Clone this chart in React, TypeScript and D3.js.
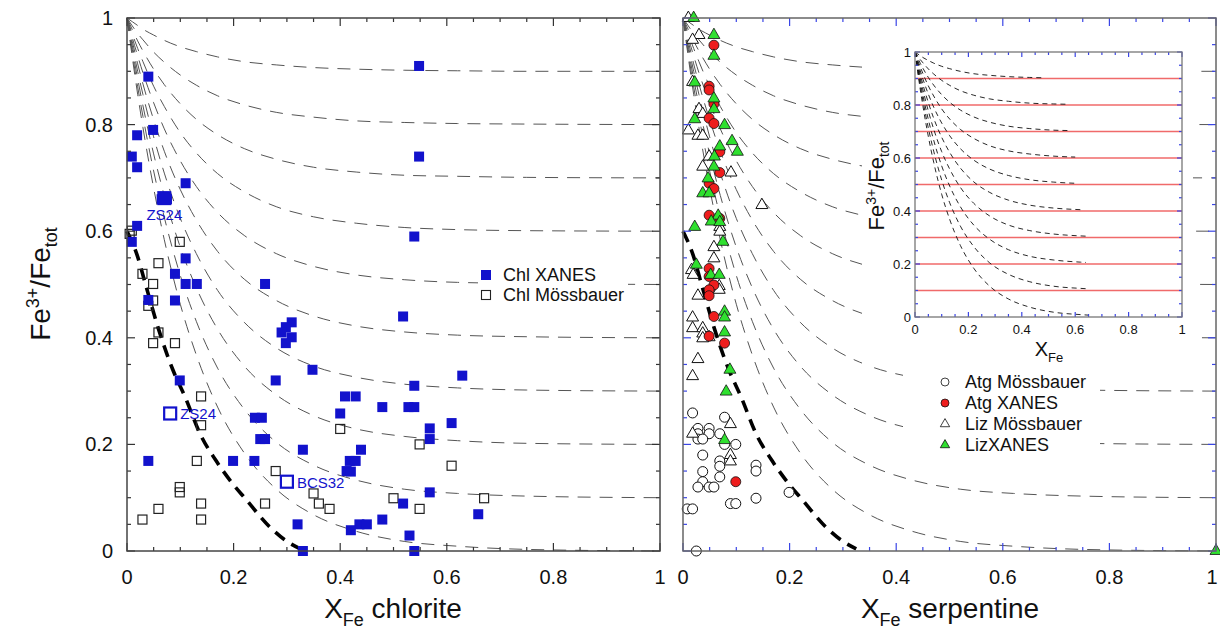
import React from "react";
import * as d3 from "d3";

const FONT = "Arial, 'Liberation Sans', Helvetica, sans-serif";

// ---- chlorite panel ----
const chlXanes: [number, number][] = [
  [0.04, 0.89], [0.049, 0.79], [0.019, 0.78], [0.009, 0.74], [0.019, 0.72], [0.11, 0.69],
  [0.065, 0.66], [0.075, 0.66], [0.07, 0.665], [0.019, 0.61], [0.009, 0.58], [0.11, 0.549],
  [0.09, 0.52], [0.11, 0.501], [0.131, 0.501], [0.259, 0.501], [0.548, 0.91], [0.548, 0.74],
  [0.539, 0.59], [0.04, 0.471], [0.09, 0.47], [0.309, 0.429], [0.298, 0.42], [0.29, 0.41],
  [0.309, 0.401], [0.298, 0.39], [0.348, 0.34], [0.099, 0.32], [0.279, 0.32], [0.409, 0.29],
  [0.429, 0.29], [0.479, 0.27], [0.4, 0.258], [0.24, 0.25], [0.253, 0.25], [0.25, 0.21],
  [0.259, 0.21], [0.33, 0.19], [0.439, 0.19], [0.418, 0.169], [0.429, 0.169], [0.04, 0.169],
  [0.199, 0.169], [0.239, 0.169], [0.412, 0.15], [0.42, 0.149], [0.479, 0.059], [0.32, 0.05],
  [0.436, 0.05], [0.45, 0.05], [0.42, 0.039], [0.33, 0.0], [0.518, 0.44], [0.629, 0.329],
  [0.539, 0.31], [0.528, 0.27], [0.539, 0.27], [0.568, 0.23], [0.609, 0.24], [0.568, 0.21],
  [0.568, 0.11], [0.518, 0.089], [0.659, 0.069], [0.53, 0.029], [0.539, 0.0],
];

const chlMoss: [number, number][] = [
  [0.009, 0.601], [0.005, 0.595], [0.099, 0.58], [0.059, 0.54], [0.029, 0.52], [0.049, 0.501],
  [0.049, 0.47], [0.04, 0.46], [0.059, 0.41], [0.049, 0.39], [0.09, 0.39], [0.139, 0.29],
  [0.139, 0.236], [0.4, 0.229], [0.131, 0.169], [0.279, 0.15], [0.099, 0.12], [0.099, 0.11],
  [0.35, 0.108], [0.36, 0.089], [0.38, 0.079], [0.259, 0.089], [0.139, 0.089], [0.059, 0.079],
  [0.139, 0.059], [0.029, 0.059], [0.5, 0.099], [0.549, 0.2], [0.609, 0.16], [0.67, 0.099],
  [0.549, 0.079],
];

// labelled samples
const chlLabelled = [
  { name: "ZS24", x: 0.07, y: 0.662, filled: true },
  { name: "ZS24", x: 0.081, y: 0.258, filled: false },
  { name: "BCS32", x: 0.3, y: 0.13, filled: false },
];

// ---- serpentine panel ----
const atgMoss: [number, number][] = [
  [0.018, 0.259], [0.078, 0.251], [0.028, 0.23], [0.049, 0.23], [0.028, 0.22], [0.049, 0.22],
  [0.069, 0.22], [0.028, 0.21], [0.037, 0.21], [0.078, 0.2], [0.099, 0.2], [0.037, 0.18],
  [0.069, 0.169], [0.069, 0.159], [0.137, 0.161], [0.137, 0.15], [0.037, 0.149], [0.069, 0.139],
  [0.037, 0.13], [0.028, 0.12], [0.049, 0.12], [0.058, 0.12], [0.199, 0.11], [0.137, 0.099],
  [0.089, 0.089], [0.099, 0.089], [0.008, 0.079], [0.018, 0.079], [0.025, 0.0],
];

const atgXanes: [number, number][] = [
  [0.058, 0.949], [0.049, 0.872], [0.049, 0.865], [0.058, 0.839], [0.049, 0.812], [0.058, 0.802],
  [0.069, 0.749], [0.069, 0.71], [0.049, 0.69], [0.058, 0.68], [0.049, 0.63], [0.069, 0.624],
  [0.049, 0.53], [0.049, 0.515], [0.058, 0.499], [0.049, 0.49], [0.049, 0.479], [0.058, 0.44],
  [0.049, 0.403], [0.078, 0.39], [0.099, 0.13],
];

const lizMoss: [number, number][] = [
  [0.01, 1.0], [0.03, 0.968], [0.018, 0.959], [0.018, 0.88], [0.03, 0.829], [0.037, 0.82],
  [0.01, 0.789], [0.028, 0.779], [0.037, 0.779], [0.049, 0.74], [0.037, 0.721], [0.09, 0.71],
  [0.148, 0.649], [0.069, 0.608], [0.069, 0.599], [0.058, 0.57], [0.058, 0.549], [0.016, 0.527],
  [0.019, 0.518], [0.068, 0.497], [0.068, 0.49], [0.028, 0.479], [0.018, 0.438], [0.018, 0.418],
  [0.037, 0.418], [0.037, 0.408], [0.049, 0.401], [0.037, 0.399], [0.028, 0.36], [0.018, 0.328],
  [0.089, 0.238], [0.018, 0.22], [0.089, 0.18], [0.089, 0.168],
];

const lizXanes: [number, number][] = [
  [0.02, 1.0], [0.058, 0.968], [0.058, 0.929], [0.022, 0.879], [0.058, 0.849], [0.058, 0.829],
  [0.022, 0.81], [0.078, 0.799], [0.092, 0.769], [0.069, 0.759], [0.102, 0.749], [0.059, 0.74],
  [0.058, 0.721], [0.047, 0.699], [0.037, 0.671], [0.049, 0.671], [0.066, 0.629], [0.053, 0.618],
  [0.069, 0.617], [0.022, 0.608], [0.075, 0.58], [0.025, 0.537], [0.052, 0.518], [0.068, 0.518],
  [0.078, 0.449], [0.078, 0.438], [0.078, 0.41], [0.088, 0.34], [0.081, 0.299], [0.078, 0.208],
  [1.0, 0.0],
];

// thick dashed boundary curve
const boundary: [number, number][] = [
  [0, 0.6], [0.019, 0.555], [0.034, 0.503], [0.058, 0.42], [0.086, 0.34], [0.109, 0.289],
  [0.138, 0.218], [0.166, 0.171], [0.193, 0.133], [0.223, 0.097], [0.27, 0.043], [0.3, 0.018],
  [0.325, 0.004],
];

// thin dashed guide curves, all from (0,1) towards Fe3+/Fetot = level
const guideX = [0, 0.01, 0.02, 0.03, 0.05, 0.07, 0.1, 0.13, 0.17, 0.22, 0.28, 0.35, 0.43, 0.52, 0.62, 0.75, 1];
const guide90 = [1, 0.993, 0.986, 0.979, 0.968, 0.958, 0.946, 0.937, 0.927, 0.918, 0.912, 0.907, 0.904, 0.902, 0.901, 0.9, 0.9];
const guide80 = [1, 0.985, 0.971, 0.959, 0.936, 0.917, 0.893, 0.874, 0.854, 0.837, 0.823, 0.814, 0.807, 0.804, 0.802, 0.801, 0.8];
const guide70 = [1, 0.978, 0.957, 0.938, 0.904, 0.875, 0.839, 0.81, 0.781, 0.755, 0.735, 0.72, 0.711, 0.705, 0.703, 0.701, 0.7];
const guide60 = [1, 0.97, 0.943, 0.918, 0.872, 0.834, 0.785, 0.747, 0.708, 0.674, 0.646, 0.627, 0.615, 0.607, 0.603, 0.601, 0.6];
const guide50 = [1, 0.963, 0.929, 0.897, 0.841, 0.792, 0.732, 0.684, 0.635, 0.592, 0.558, 0.534, 0.518, 0.509, 0.504, 0.502, 0.5];
const guide40 = [1, 0.956, 0.914, 0.876, 0.809, 0.75, 0.678, 0.621, 0.562, 0.51, 0.47, 0.441, 0.422, 0.411, 0.405, 0.402, 0.4];
const guide30 = [1, 0.948, 0.9, 0.856, 0.777, 0.709, 0.624, 0.558, 0.489, 0.429, 0.381, 0.347, 0.326, 0.313, 0.306, 0.302, 0.3];
const guide20 = [1, 0.941, 0.886, 0.835, 0.745, 0.667, 0.57, 0.494, 0.416, 0.347, 0.293, 0.254, 0.229, 0.215, 0.207, 0.202, 0.2];
const guide10 = [1, 0.933, 0.871, 0.815, 0.713, 0.626, 0.517, 0.431, 0.343, 0.266, 0.204, 0.161, 0.133, 0.116, 0.108, 0.103, 0.1];
const guide00 = [1, 0.926, 0.857, 0.794, 0.681, 0.584, 0.463, 0.368, 0.27, 0.184, 0.116, 0.068, 0.037, 0.018, 0.009, 0.003, 0];
const guideCurves = [guide90, guide80, guide70, guide60, guide50, guide40, guide30, guide20, guide10, guide00];
const insetEnds = [0.48, 0.57, 0.58, 0.6, 0.61, 0.63, 0.65, 0.64, 0.65, 0.65];
const insetLevels = [0.1, 0.2, 0.3, 0.4, 0.5, 0.6, 0.7, 0.8, 0.9];

const tickValues = [0, 0.2, 0.4, 0.6, 0.8, 1];
const tickLabels = ["0", "0.2", "0.4", "0.6", "0.8", "1"];
const minorTicks = d3.range(0, 1.0001, 0.05);

const BLUE = "#1212cc";
const TICK_BLUE = "#3a45e6";
const RED = "#ee1d1d";
const GREEN = "#2fe02f";

const yMain = d3.scaleLinear().domain([0, 1]).range([551, 18]);
const xLeft = d3.scaleLinear().domain([0, 1]).range([127, 660]);
const xRight = d3.scaleLinear().domain([0, 1]).range([683, 1216]);
const xInset = d3.scaleLinear().domain([0, 1]).range([915, 1182]);
const yInset = d3.scaleLinear().domain([0, 1]).range([317, 52]);

const triPath = d3.symbol().type(d3.symbolTriangle).size(62)() as string;
const triLegend = d3.symbol().type(d3.symbolTriangle).size(38)() as string;

type Scale = d3.ScaleLinear<number, number>;

function Ticks({ x, y, color, major, minor }: { x: Scale; y: Scale; color: string; major: number; minor: number }) {
  const isMajor = (v: number) => Math.abs(v * 5 - Math.round(v * 5)) < 1e-6;
  const out: JSX.Element[] = [];
  minorTicks.forEach((v, i) => {
    const len = isMajor(v) ? major : minor;
    out.push(<line key={"b" + i} x1={x(v)} x2={x(v)} y1={y(0)} y2={y(0) - len} />);
    out.push(<line key={"t" + i} x1={x(v)} x2={x(v)} y1={y(1)} y2={y(1) + len} />);
    out.push(<line key={"l" + i} x1={x(0)} x2={x(0) + len} y1={y(v)} y2={y(v)} />);
    out.push(<line key={"r" + i} x1={x(1)} x2={x(1) - len} y1={y(v)} y2={y(v)} />);
  });
  return <g stroke={color} strokeWidth={1.2}>{out}</g>;
}

function Guides({ x }: { x: Scale }) {
  const line = d3
    .line<number>()
    .x((_, i) => x(guideX[i]))
    .y((d) => yMain(d))
    .curve(d3.curveMonotoneX);
  return (
    <g fill="none" stroke="#555" strokeWidth={1} strokeDasharray="13 9">
      {guideCurves.map((c, i) => (
        <path key={i} d={line(c) as string} />
      ))}
    </g>
  );
}

function Boundary({ x }: { x: Scale }) {
  const line = d3
    .line<[number, number]>()
    .x((d) => x(d[0]))
    .y((d) => yMain(d[1]))
    .curve(d3.curveMonotoneX);
  return (
    <path d={line(boundary) as string} fill="none" stroke="#000" strokeWidth={3.6} strokeDasharray="12 8" />
  );
}

function XTickLabels({ x, y }: { x: Scale; y: number }) {
  return (
    <g fontSize={20} textAnchor="middle" fill="#111">
      {tickValues.map((v, i) => (
        <text key={i} x={Math.min(x(v), 1212)} y={y}>{tickLabels[i]}</text>
      ))}
    </g>
  );
}

function Inset() {
  const line = d3
    .line<number>()
    .x((_, i) => xInset(guideX[i]))
    .y((d) => yInset(d))
    .curve(d3.curveMonotoneX);
  return (
    <g>
      <rect x={862} y={30} width={331} height={335} fill="#fff" />
      <defs>
        {insetEnds.map((e, i) => (
          <clipPath key={i} id={"iclip" + i}>
            <rect x={xInset(0)} y={0} width={xInset(e) - xInset(0)} height={633} />
          </clipPath>
        ))}
      </defs>
      <g stroke="#f06a6a" strokeWidth={1.4}>
        {insetLevels.map((v, i) => (
          <line key={i} x1={xInset(0)} x2={xInset(1)} y1={yInset(v)} y2={yInset(v)} />
        ))}
      </g>
      <g fill="none" stroke="#111" strokeWidth={0.9} strokeDasharray="5 4">
        {guideCurves.map((c, i) => (
          <path key={i} d={line(c) as string} clipPath={`url(#iclip${i})`} />
        ))}
      </g>
      <Ticks x={xInset} y={yInset} color={TICK_BLUE} major={5} minor={3} />
      <rect x={xInset(0)} y={yInset(1)} width={xInset(1) - xInset(0)} height={yInset(0) - yInset(1)}
        fill="none" stroke="#777" strokeWidth={1.3} />
      <g fontSize={13} fill="#111">
        {tickValues.map((v, i) => (
          <text key={"x" + i} x={xInset(v)} y={334} textAnchor="middle">{tickLabels[i]}</text>
        ))}
        {tickValues.map((v, i) => (
          <text key={"y" + i} x={911} y={yInset(v)} dy="0.35em" textAnchor="end">{tickLabels[i]}</text>
        ))}
      </g>
      <text transform="translate(884,186) rotate(-90)" textAnchor="middle" fontSize={22} fill="#111">
        Fe<tspan dy={-8} fontSize={14}>3+</tspan><tspan dy={8}>/Fe</tspan><tspan dy={5} fontSize={14}>tot</tspan>
      </text>
      <text x={1049} y={356} textAnchor="middle" fontSize={20} fill="#111">
        X<tspan dy={6} fontSize={13}>Fe</tspan>
      </text>
    </g>
  );
}

export default function App() {
  return (
    <svg width={1220} height={633} style={{ position: "absolute", left: 0, top: 0, background: "#fff" }}
      fontFamily={FONT}>
      {/* ---------- left: chlorite ---------- */}
      <Guides x={xLeft} />
      <Boundary x={xLeft} />
      <g fill="none" stroke="#222" strokeWidth={1.2}>
        {chlMoss.map((d, i) => (
          <rect key={i} x={xLeft(d[0]) - 4.5} y={yMain(d[1]) - 4.5} width={9} height={9} />
        ))}
      </g>
      <g fill={BLUE}>
        {chlXanes.map((d, i) => (
          <rect key={i} x={xLeft(d[0]) - 5} y={yMain(d[1]) - 5} width={10} height={10} />
        ))}
      </g>
      {chlLabelled.map((d, i) => (
        <g key={i}>
          {d.filled ? (
            <rect x={xLeft(d.x) - 7} y={yMain(d.y) - 7} width={14} height={14} fill={BLUE} />
          ) : (
            <rect x={xLeft(d.x) - 6} y={yMain(d.y) - 6} width={12} height={12} fill="#fff" stroke={BLUE} strokeWidth={2.2} />
          )}
        </g>
      ))}
      <g fontSize={15} fill={BLUE}>
        <text x={xLeft(0.07)} y={yMain(0.662) + 22} textAnchor="middle">ZS24</text>
        <text x={xLeft(0.081) + 10} y={yMain(0.258) + 6}>ZS24</text>
        <text x={xLeft(0.3) + 10} y={yMain(0.13) + 6}>BCS32</text>
      </g>
      <rect x={478} y={262} width={150} height={42} fill="#fff" />
      <rect x={481} y={270} width={10} height={10} fill={BLUE} />
      <rect x={481.5} y={290.5} width={9} height={9} fill="none" stroke="#222" strokeWidth={1.1} />
      <g fontSize={18} fill="#111">
        <text x={503} y={281}>Chl XANES</text>
        <text x={503} y={301}>Chl Mössbauer</text>
      </g>
      <Ticks x={xLeft} y={yMain} color="#333" major={8} minor={4} />
      <rect x={127} y={18} width={533} height={533} fill="none" stroke="#444" strokeWidth={1.5} />
      <g fontSize={20} textAnchor="end" fill="#111">
        {tickValues.map((v, i) => (
          <text key={i} x={113} y={yMain(v)} dy="0.35em">{tickLabels[i]}</text>
        ))}
      </g>
      <XTickLabels x={xLeft} y={584} />
      <text x={393} y={618} textAnchor="middle" fontSize={28} fill="#111">
        X<tspan dy={8} fontSize={18}>Fe</tspan><tspan dy={-8}>{" chlorite"}</tspan>
      </text>
      <text transform="translate(50,284) rotate(-90)" textAnchor="middle" fontSize={28} fill="#111">
        Fe<tspan dy={-11} fontSize={18}>3+</tspan><tspan dy={11}>/Fe</tspan><tspan dy={7} fontSize={18}>tot</tspan>
      </text>

      {/* ---------- right: serpentine ---------- */}
      <Guides x={xRight} />
      <Boundary x={xRight} />
      <g fill="#fff" stroke="#111" strokeWidth={1}>
        {atgMoss.map((d, i) => (
          <circle key={i} cx={xRight(d[0])} cy={yMain(d[1])} r={5} />
        ))}
        {lizMoss.map((d, i) => (
          <path key={i} d={triPath} transform={`translate(${xRight(d[0])},${yMain(d[1])})`} />
        ))}
      </g>
      <g fill={RED} stroke="#111" strokeWidth={0.8}>
        {atgXanes.map((d, i) => (
          <circle key={i} cx={xRight(d[0])} cy={yMain(d[1])} r={5} />
        ))}
      </g>
      <g fill={GREEN} stroke="#111" strokeWidth={0.8}>
        {lizXanes.map((d, i) => (
          <path key={i} d={triPath} transform={`translate(${xRight(d[0])},${yMain(d[1])})`} />
        ))}
      </g>
      <Inset />
      <rect x={903} y={365} width={197} height={93} fill="#fff" />
      <g stroke="#111" strokeWidth={0.8}>
        <circle cx={945} cy={382} r={4} fill="#fff" />
        <circle cx={945} cy={403} r={4} fill={RED} />
        <path d={triLegend} transform="translate(945,424)" fill="#fff" />
        <path d={triLegend} transform="translate(945,445)" fill={GREEN} />
      </g>
      <g fontSize={18} fill="#111">
        <text x={965} y={388}>Atg Mössbauer</text>
        <text x={965} y={409}>Atg XANES</text>
        <text x={965} y={430}>Liz Mössbauer</text>
        <text x={965} y={451}>LizXANES</text>
      </g>
      <Ticks x={xRight} y={yMain} color={TICK_BLUE} major={8} minor={4} />
      <rect x={683} y={18} width={533} height={533} fill="none" stroke="#666" strokeWidth={1.5} />
      <XTickLabels x={xRight} y={584} />
      <text x={950} y={618} textAnchor="middle" fontSize={28} fill="#111">
        X<tspan dy={8} fontSize={18}>Fe</tspan><tspan dy={-8}>{" serpentine"}</tspan>
      </text>
    </svg>
  );
}
